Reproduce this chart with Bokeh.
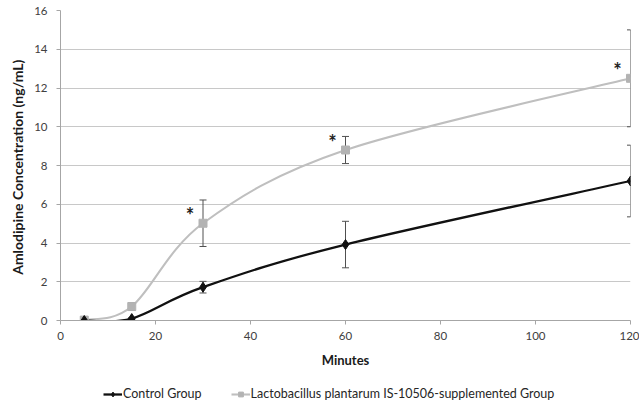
import numpy as np
from bokeh.plotting import figure
from bokeh.layouts import column
from bokeh.models import (ColumnDataSource, Whisker, TeeHead, FixedTicker,
                          Legend, LegendItem, Range1d)
from bokeh.core.properties import value
from bokeh.embed import file_html
from bokeh.resources import INLINE

# ---- data ----
minutes = [5, 15, 30, 60, 120]
control_mean = [0.0, 0.1, 1.72, 3.92, 7.2]
control_sd = [0.0, 0.05, 0.3, 1.2, 1.85]
lacto_mean = [0.02, 0.72, 5.02, 8.8, 12.5]
lacto_sd = [0.0, 0.2, 1.2, 0.7, 2.5]
significant_minutes = [30, 60, 120]
x_ticks = [0, 20, 40, 60, 80, 100, 120]
y_ticks = [0, 2, 4, 6, 8, 10, 12, 14, 16]
series_names = ["Control Group",
                "Lactobacillus plantarum IS-10506-supplemented Group"]
x_title = "Minutes"
y_title = "Amlodipine Concentration  (ng/mL)"

FONT = "Lato"
CTRL_COLOR = "#111111"
LACTO_COLOR = "#bfbfbf"
LACTO_MARK = "#b3b3b3"
ERR_COLOR = "#505050"


def smooth_segments(xs, ys):
    """Bezier control points for an Excel-like smoothed line through the data."""
    x = np.asarray(xs, float)
    y = np.asarray(ys, float)
    n = len(x)
    d = dict(x0=[], y0=[], x1=[], y1=[], cx0=[], cy0=[], cx1=[], cy1=[])
    for i in range(n - 1):
        a = max(i - 1, 0)
        b = min(i + 2, n - 1)
        d["x0"].append(x[i]); d["y0"].append(y[i])
        d["x1"].append(x[i + 1]); d["y1"].append(y[i + 1])
        d["cx0"].append(x[i] + (x[i + 1] - x[a]) / 6.0)
        d["cy0"].append(y[i] + (y[i + 1] - y[a]) / 6.0)
        d["cx1"].append(x[i + 1] - (x[b] - x[i]) / 6.0)
        d["cy1"].append(y[i + 1] - (y[b] - y[i]) / 6.0)
    return ColumnDataSource(d)


p = figure(width=639, height=376, output_backend="svg", toolbar_location=None,
           tools="", x_range=Range1d(0, 120), y_range=Range1d(0, 16),
           min_border_left=60, min_border_right=9, min_border_top=10,
           min_border_bottom=56)
p.outline_line_color = None
p.background_fill_color = "white"

# grid
p.xgrid.grid_line_color = None
p.ygrid.grid_line_color = "#c8c8c8"
p.ygrid.grid_line_width = 1

# axes
for ax in (p.xaxis[0], p.yaxis[0]):
    ax.axis_line_color = "#a6a6a6"
    ax.major_tick_line_color = "#a6a6a6"
    ax.minor_tick_line_color = None
    ax.major_tick_in = 0
    ax.major_tick_out = 4
    ax.major_label_text_font = FONT
    ax.major_label_text_font_size = "11.5px"
    ax.major_label_text_color = "#404040"
    ax.axis_label_text_font = FONT
    ax.axis_label_text_font_style = "bold"
    ax.axis_label_text_color = "#1a1a1a"

p.xaxis.axis_label_text_font_size = "13px"
p.yaxis.axis_label_text_font_size = "14px"
p.xaxis.ticker = FixedTicker(ticks=x_ticks)
p.yaxis.ticker = FixedTicker(ticks=y_ticks)
p.xaxis.axis_label = x_title
p.yaxis.axis_label = y_title
p.xaxis.major_label_standoff = 7
p.xaxis.axis_label_standoff = 9
p.yaxis.major_label_standoff = 9
p.yaxis.axis_label_standoff = 5

# error bars
ctrl_src = ColumnDataSource(dict(
    x=minutes, y=control_mean,
    lo=[m - s for m, s in zip(control_mean, control_sd)],
    hi=[m + s for m, s in zip(control_mean, control_sd)]))
lacto_src = ColumnDataSource(dict(
    x=minutes, y=lacto_mean,
    lo=[m - s for m, s in zip(lacto_mean, lacto_sd)],
    hi=[m + s for m, s in zip(lacto_mean, lacto_sd)]))

for src in (lacto_src, ctrl_src):
    w = Whisker(source=src, base="x", upper="hi", lower="lo",
                line_color=ERR_COLOR, line_width=1,
                upper_head=TeeHead(size=7, line_color=ERR_COLOR, line_width=1),
                lower_head=TeeHead(size=7, line_color=ERR_COLOR, line_width=1))
    p.add_layout(w)

# smoothed lines
p.bezier(source=smooth_segments(minutes, lacto_mean),
         x0="x0", y0="y0", x1="x1", y1="y1",
         cx0="cx0", cy0="cy0", cx1="cx1", cy1="cy1",
         line_color=LACTO_COLOR, line_width=2.1)
p.bezier(source=smooth_segments(minutes, control_mean),
         x0="x0", y0="y0", x1="x1", y1="y1",
         cx0="cx0", cy0="cy0", cx1="cx1", cy1="cy1",
         line_color=CTRL_COLOR, line_width=2.3)

p.scatter("x", "y", source=lacto_src, marker="square", size=8,
          fill_color=LACTO_MARK, line_color=LACTO_MARK)
p.scatter("x", "y", source=ctrl_src, marker="diamond", size=10,
          fill_color=CTRL_COLOR, line_color=CTRL_COLOR)

# significance stars
sig_y = [lacto_mean[minutes.index(m)] for m in significant_minutes]
p.text(x=significant_minutes, y=sig_y, text=["*"] * len(sig_y),
       x_offset=-13, y_offset=-8, text_align="center", text_baseline="middle",
       text_font=value(FONT), text_font_size="20px", text_font_style="bold",
       text_color="#222222")

# ---- legend strip below the chart ----
# (the series are drawn again here only as legend keys; they fall outside
#  this strip's ranges, so only the legend swatches are visible)
lg = figure(width=639, height=26, output_backend="svg", toolbar_location=None,
            tools="", x_range=Range1d(0, 1), y_range=Range1d(0, 1),
            x_axis_location=None, y_axis_location=None,
            min_border_left=0, min_border_right=0, min_border_top=0,
            min_border_bottom=0)
lg.outline_line_color = None
lg.xgrid.visible = False
lg.ygrid.visible = False
c_line = lg.line("x", "y", source=ctrl_src, line_color=CTRL_COLOR, line_width=2.3)
c_pt = lg.scatter("x", "y", source=ctrl_src, marker="diamond", size=9,
                  fill_color=CTRL_COLOR, line_color=CTRL_COLOR)
l_line = lg.line("x", "y", source=lacto_src, line_color=LACTO_COLOR, line_width=2.1)
l_pt = lg.scatter("x", "y", source=lacto_src, marker="square", size=7,
                  fill_color=LACTO_MARK, line_color=LACTO_MARK)
legend = Legend(items=[LegendItem(label=series_names[0], renderers=[c_line, c_pt]),
                       LegendItem(label=series_names[1], renderers=[l_line, l_pt])],
                orientation="horizontal", location=(43, 1),
                label_text_font=FONT, label_text_font_size="12.5px",
                label_text_color="#262626", glyph_width=19, glyph_height=12,
                label_standoff=1, spacing=29, padding=2, margin=0,
                border_line_color=None, background_fill_alpha=0)
lg.add_layout(legend)

layout = column(p, lg, spacing=0)
open("out.html", "w").write(file_html(layout, INLINE))
